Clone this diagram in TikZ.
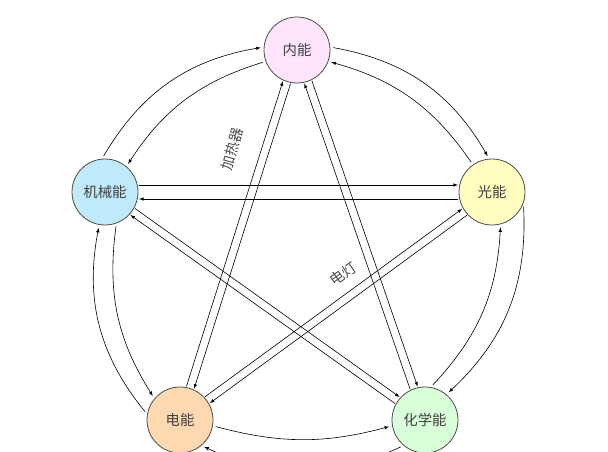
\documentclass[tikz,border=0pt]{standalone}
\usepackage{fontspec}
\setmainfont{Noto Sans CJK SC}
\usetikzlibrary{calc}
\tikzset{shifted by/.style={to path={($(\tikztostart)!#1!90:(\tikztotarget)$)
 -- ($(\tikztotarget)!#1!-90:(\tikztostart)$)}},
 shifted by/.default=4pt,
 star edge/.style={semithick,-latex,shorten >=34pt,shorten <=34pt,shifted by},
 ring edge/.style={semithick,-latex,shorten >=3pt,shorten <=3pt}}
\begin{document}
\begin{tikzpicture}[x=1pt,y=1pt,
 energy/.style={circle,draw=black!70,thick,minimum size=66pt,inner sep=0pt,font=\Large,text=black!75}]
\useasboundingbox (0,0) rectangle (608,451);

\node[energy,fill=pink!40!magenta!15] (nei) at (297,401) {内能};
\node[energy,fill=cyan!25] (jixie) at (105,259) {机械能};
\node[energy,fill=yellow!25] (guang) at (492,259) {光能};
\node[energy,fill=orange!30] (dian) at (180,31) {电能};
\node[energy,fill=green!15] (hua) at (425,31) {化学能};

% outer ring, clockwise
\draw[ring edge] (nei.5) to[bend left=25] (guang.95);
\draw[ring edge] (guang.-20) to[bend left=25] (hua.50);
\draw[ring edge] (hua.-130) to[bend left=25] (dian.-50);
\draw[ring edge] (dian.170) to[bend left=25] (jixie.-100);
\draw[ring edge] (jixie.95) to[bend left=25] (nei.175);
% inner ring, counterclockwise
\draw[ring edge] (guang.125) to[bend right=20] (nei.-20);
\draw[ring edge] (hua.80) to[bend right=20] (guang.-75);
\draw[ring edge] (dian.-10) to[bend right=15] (hua.-170);
\draw[ring edge] (jixie.-70) to[bend right=20] (dian.140);
\draw[ring edge] (nei.-160) to[bend right=20] (jixie.50);

% star
\draw (jixie) edge[star edge,shifted by=7pt] (guang)
 (guang) edge[star edge,shifted by=7pt] (jixie)
 (nei) edge[star edge] (dian) (dian) edge[star edge] (nei)
 (nei) edge[star edge] (hua) (hua) edge[star edge] (nei)
 (jixie) edge[star edge] (hua) (hua) edge[star edge] (jixie)
 (guang) edge[star edge] (dian) (dian) edge[star edge] (guang);

\node[rotate=75,text=black!70,font=\Large] (heater) at (232,302) {加热器};
\node[rotate=35,text=black!70,font=\Large] (lamp) at (343,177) {电灯};
\end{tikzpicture}
\end{document}
